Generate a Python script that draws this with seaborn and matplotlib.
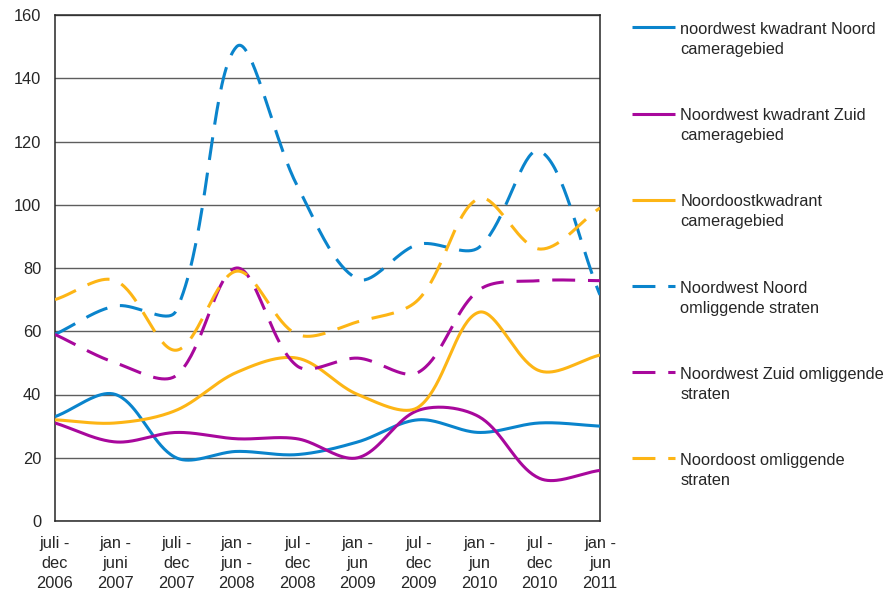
import numpy as np
import pandas as pd
import matplotlib
matplotlib.use("Agg")
import matplotlib.pyplot as plt
import seaborn as sns
from matplotlib.legend_handler import HandlerLine2D
from matplotlib.lines import Line2D

categories = ["juli -\ndec\n2006", "jan -\njuni\n2007", "juli -\ndec\n2007", "jan -\njun -\n2008",
              "jul -\ndec\n2008", "jan -\njun\n2009", "jul -\ndec\n2009", "jan -\njun\n2010",
              "jul -\ndec\n2010", "jan -\njun\n2011"]

nw_noord_camera = [33, 40, 20, 22, 21, 25, 32, 28, 31, 30]
nw_zuid_camera = [31, 25, 28, 26, 26, 20, 35, 33, 13.5, 16]
no_camera = [32, 31, 35, 47, 51.5, 40, 36, 66, 47.5, 52.5]
nw_noord_omliggend = [59, 68, 66.5, 150, 106, 76.5, 87.5, 86.5, 117, 71.5]
nw_zuid_omliggend = [59, 50, 46, 80, 49, 51.5, 47, 73, 76, 76]
no_omliggend = [70, 76, 54, 79, 59, 63, 70, 102, 86, 99]

labels = ["noordwest kwadrant Noord\ncameragebied",
          "Noordwest kwadrant Zuid\ncameragebied",
          "Noordoostkwadrant\ncameragebied",
          "Noordwest Noord\nomliggende straten",
          "Noordwest Zuid omliggende\nstraten",
          "Noordoost omliggende\nstraten"]

BLUE = "#0A84CC"
MAG = "#A8089C"
ORA = "#FDB515"
colors = [BLUE, MAG, ORA, BLUE, MAG, ORA]
dashed = [False, False, False, True, True, True]
series = [nw_noord_camera, nw_zuid_camera, no_camera,
          nw_noord_omliggend, nw_zuid_omliggend, no_omliggend]

# pixel scale of one unit on each axis (for shape-aware smoothing)
SX, SY = (600 - 55) / 9, (521 - 15) / 160


def smooth(xv, yv, n=40):
    """Excel-like smoothed line: Bezier with chord-length weighted tangents."""
    P = np.column_stack([np.asarray(xv, float) * SX, np.asarray(yv, float) * SY])
    m = len(P)
    cout, cin = [], []
    for i in range(m):
        prev = P[max(i - 1, 0)]
        nxt = P[min(i + 1, m - 1)]
        T = nxt - prev
        dp = np.linalg.norm(P[i] - prev)
        dn = np.linalg.norm(nxt - P[i])
        tot = dp + dn if dp + dn > 0 else 1.0
        cout.append(P[i] + T * (dn / tot) / 3)
        cin.append(P[i] - T * (dp / tot) / 3)
    out = []
    t = np.linspace(0, 1, n)[:, None]
    for i in range(m - 1):
        p1, c1, c2, p2 = P[i], cout[i], cin[i + 1], P[i + 1]
        seg = ((1 - t) ** 3) * p1 + 3 * ((1 - t) ** 2) * t * c1 + 3 * (1 - t) * t ** 2 * c2 + t ** 3 * p2
        out.append(seg if i == 0 else seg[1:])
    S = np.vstack(out)
    return S[:, 0] / SX, S[:, 1] / SY


sns.set_theme(style="white")
plt.rcParams["font.family"] = ["Liberation Sans", "DejaVu Sans"]
FS = 11.8
LSP = 1.42

fig = plt.figure(figsize=(8.95, 5.96), dpi=100)
ax = fig.add_axes([55 / 895, 1 - 521 / 596, (600 - 55) / 895, (521 - 15) / 596])

x = np.arange(len(categories))
LW = 2.2
for ys, c, d, lab in zip(series, colors, dashed, labels):
    sx, sy = smooth(x, ys)
    df = pd.DataFrame({"x": sx, "y": sy})
    kw = dict(linestyle=(0, (7.5, 4.2))) if d else {}
    sns.lineplot(data=df, x="x", y="y", color=c, lw=LW, ax=ax, label=lab,
                 sort=False, solid_capstyle="butt", dash_capstyle="butt", zorder=3, **kw)

ax.set_xlim(0, len(categories) - 1)
ax.set_ylim(0, 160)
ax.set_yticks(np.arange(0, 161, 20))
ax.set_xticks(x)
ax.set_xticklabels(categories, fontsize=FS, linespacing=LSP)
ax.tick_params(axis="y", labelsize=FS, length=0, pad=10)
ax.tick_params(axis="x", length=0, pad=11)
ax.set_xlabel("")
ax.set_ylabel("")
ax.grid(axis="y", color="#5e5e5e", lw=1.0, zorder=0)
ax.set_axisbelow(True)
for s in ax.spines.values():
    s.set_color("#262626")
    s.set_linewidth(1.1)


class FirstLineHandler(HandlerLine2D):
    def create_artists(self, legend, orig_handle, xdescent, ydescent, width, height, fontsize, trans):
        arts = super().create_artists(legend, orig_handle, xdescent, ydescent, width, height, fontsize, trans)
        for a in arts:
            if isinstance(a, Line2D):
                a.set_ydata(np.asarray(a.get_ydata(), dtype=float) + 0.76 * fontsize)
        return arts


handles, labs = ax.get_legend_handles_labels()
if ax.legend_:
    ax.legend_.remove()
leg = fig.legend(handles, labs, loc="upper left", bbox_to_anchor=(632 / 895, 1 - 22 / 596),
                 frameon=False, fontsize=FS, handlelength=2.65, handletextpad=0.3,
                 labelspacing=3.12, borderaxespad=0, borderpad=0,
                 handler_map={Line2D: FirstLineHandler()})
for t in leg.get_texts():
    t.set_linespacing(LSP)

fig.savefig("out.png", dpi=100)
